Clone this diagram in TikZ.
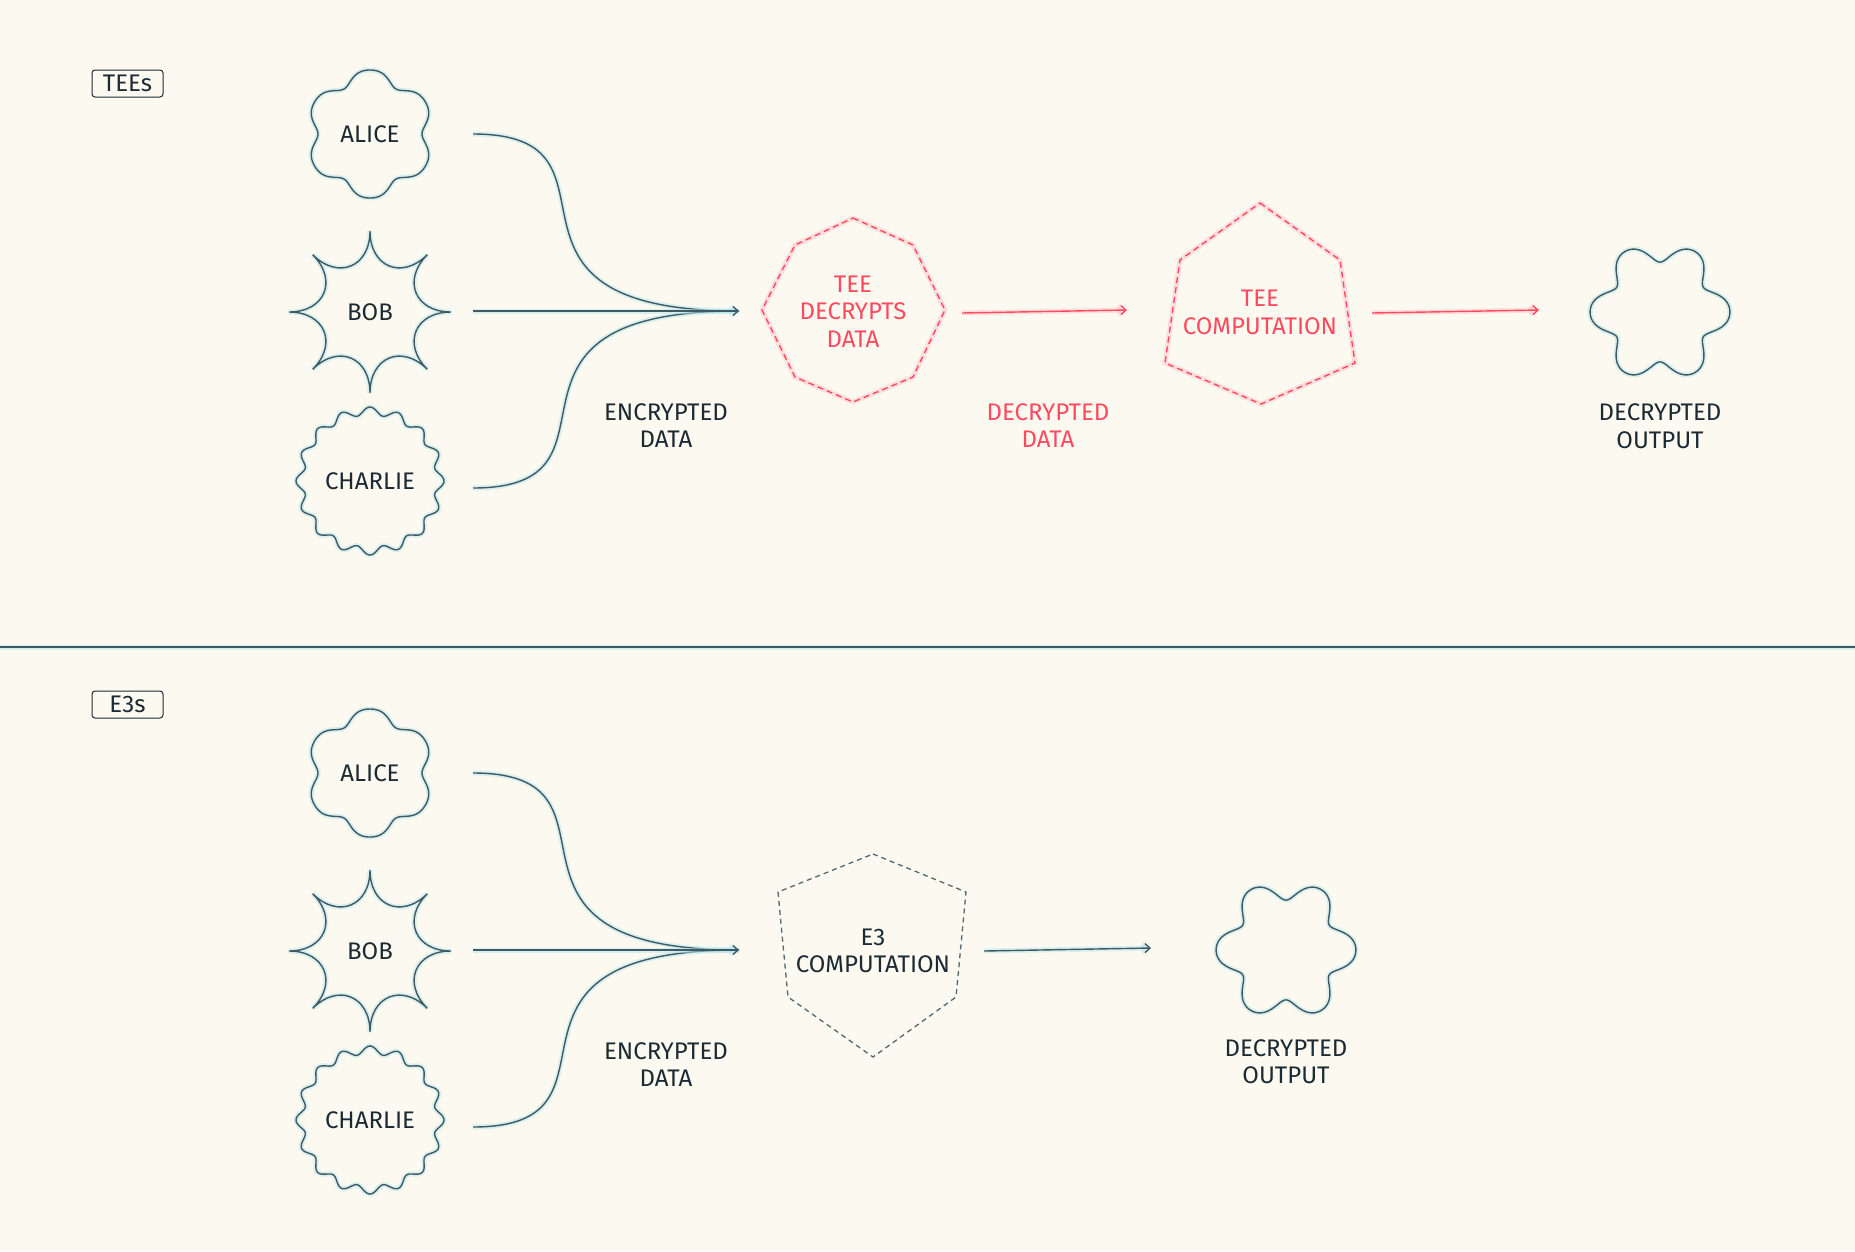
\documentclass[tikz,border=0pt]{standalone}
\usepackage{fontspec}
\setmainfont{Fira Sans}
\usetikzlibrary{arrows.meta,positioning,calc}

\definecolor{paper}{HTML}{FCF9F0}
\definecolor{ink}{HTML}{1B2A33}
\definecolor{tealline}{HTML}{3E5A64}
\definecolor{glowcyan}{HTML}{B8E7EC}
\definecolor{teered}{HTML}{FF4A5E}
\definecolor{glowred}{HTML}{FFC4CB}
\definecolor{greydash}{HTML}{4F6871}

\tikzset{
  glow/.style={preaction={draw=glowcyan,line width=5pt,opacity=.5}},
  redglow/.style={preaction={draw=glowred,line width=5pt,opacity=.5}},
  shapeline/.style={draw=tealline,line width=1.4pt,glow},
  flow/.style={draw=tealline,line width=1.4pt,glow},
  redflow/.style={draw=teered,line width=1.4pt,redglow},
  tip/.style={-{Straight Barb[length=5pt,width=9pt]}},
  txt/.style={font=\fontsize{24}{27.5}\selectfont,text=ink,align=center,inner sep=0pt},
  redtxt/.style={txt,text=teered},
  tag/.style={txt,draw=ink,line width=1pt,rounded corners=3pt,minimum width=71pt,minimum height=27pt},
  enclave/.style={draw=teered,line width=1.4pt,dash pattern=on 6pt off 4pt,redglow},
  e3shape/.style={draw=greydash,line width=1.3pt,dash pattern=on 5pt off 4pt},
  % the party shapes
  alicepic/.pic={\draw[shapeline] plot[domain=0:360,samples=241,variable=\t] (\t:{59-6*cos(6*\t)-cos(12*\t)}) -- cycle;},
  bobpic/.pic={\draw[shapeline] (90:81) \foreach \a in {90,135,...,405}{ .. controls (\a:45) and ({\a+45}:45) .. ({\a+45}:81)} -- cycle;},
  charliepic/.pic={\draw[shapeline] plot[domain=0:360,samples=361,variable=\t] (\t:{70+4*cos(16*\t)}) -- cycle;},
  outpic/.pic={\draw[shapeline] plot[domain=0:360,samples=241,variable=\t] (\t:{61+10*cos(6*\t)-1.1*cos(12*\t)}) -- cycle;},
}

\begin{document}
\begin{tikzpicture}[x=1pt,y=-1pt]
    \fill[paper] (0,0) rectangle (1855,1251);
    \useasboundingbox (0,0) rectangle (1855,1251);

    % divider
    \draw[flow] (0,647) -- (1855,647);

    \node[tag] (teetag) at (127.5,83.5) {TEEs};
    \node[tag] (e3tag) at (127.5,704.5) {E3s};

    % the three parties, once per half
    \foreach \s/\dy in {t/0,b/639}{
        \node[txt] (alice\s) at (370,134+\dy) {ALICE};
        \node[txt] (bob\s) at (370,312+\dy) {BOB};
        \node[txt] (charlie\s) at (370,481+\dy) {CHARLIE};
        \pic at (alice\s.center) {alicepic};
        \pic at (bob\s.center) {bobpic};
        \pic at (charlie\s.center) {charliepic};
        \coordinate (merge\s) at (739,311+\dy);
        \coordinate (aout\s) at (473,134+\dy);
        \coordinate (bout\s) at (473,311+\dy);
        \coordinate (cout\s) at (473,488+\dy);
        \draw[flow] (aout\s) .. controls +(171,0) and +(-278,0) .. (merge\s);
        \draw[flow] (cout\s) .. controls +(171,0) and +(-278,0) .. (merge\s);
        \draw[flow,tip] (bout\s) -- (merge\s);
        \node[txt] (enc\s) at (666,425.5+\dy) {ENCRYPTED\\DATA};
    }

    % TEEs
    \draw[enclave] (853,218) -- (913,245) -- (945,310) -- (913,377) -- (853,402)
        -- (795,377) -- (762,310) -- (795,245) -- cycle;
    \node[redtxt] (decrypt) at (853,311.5) {TEE\\DECRYPTS\\DATA};
    \draw[enclave] (1260,203) -- (1340,260) -- (1355,363) -- (1261,404)
        -- (1165,363) -- (1180,260) -- cycle;
    \node[redtxt] (teecomp) at (1260,312.5) {TEE\\COMPUTATION};
    \coordinate (r1a) at (962,313);
    \coordinate (r1b) at (1127,310);
    \draw[redflow,tip] (r1a) -- (r1b);
    \node[redtxt] (plain) at (1048,425.5) {DECRYPTED\\DATA};
    \coordinate (r2a) at (1372,313);
    \coordinate (r2b) at (1539,310);
    \draw[redflow,tip] (r2a) -- (r2b);
    \coordinate (outt) at (1660,312);
    \pic at (outt) {outpic};
    \node[txt] (resultt) at (1660,426) {DECRYPTED\\OUTPUT};

    % E3s
    \draw[e3shape] (873,854) -- (966,892) -- (956,997) -- (873,1057)
        -- (788,997) -- (778,892) -- cycle;
    \node[txt] (e3comp) at (873,951) {E3\\COMPUTATION};
    \coordinate (g1a) at (984,951);
    \coordinate (g1b) at (1151,948);
    \draw[flow,tip] (g1a) -- (g1b);
    \coordinate (outb) at (1286,950);
    \pic at (outb) {outpic};
    \node[txt] (resultb) at (1286,1061.5) {DECRYPTED\\OUTPUT};
\end{tikzpicture}
\end{document}
